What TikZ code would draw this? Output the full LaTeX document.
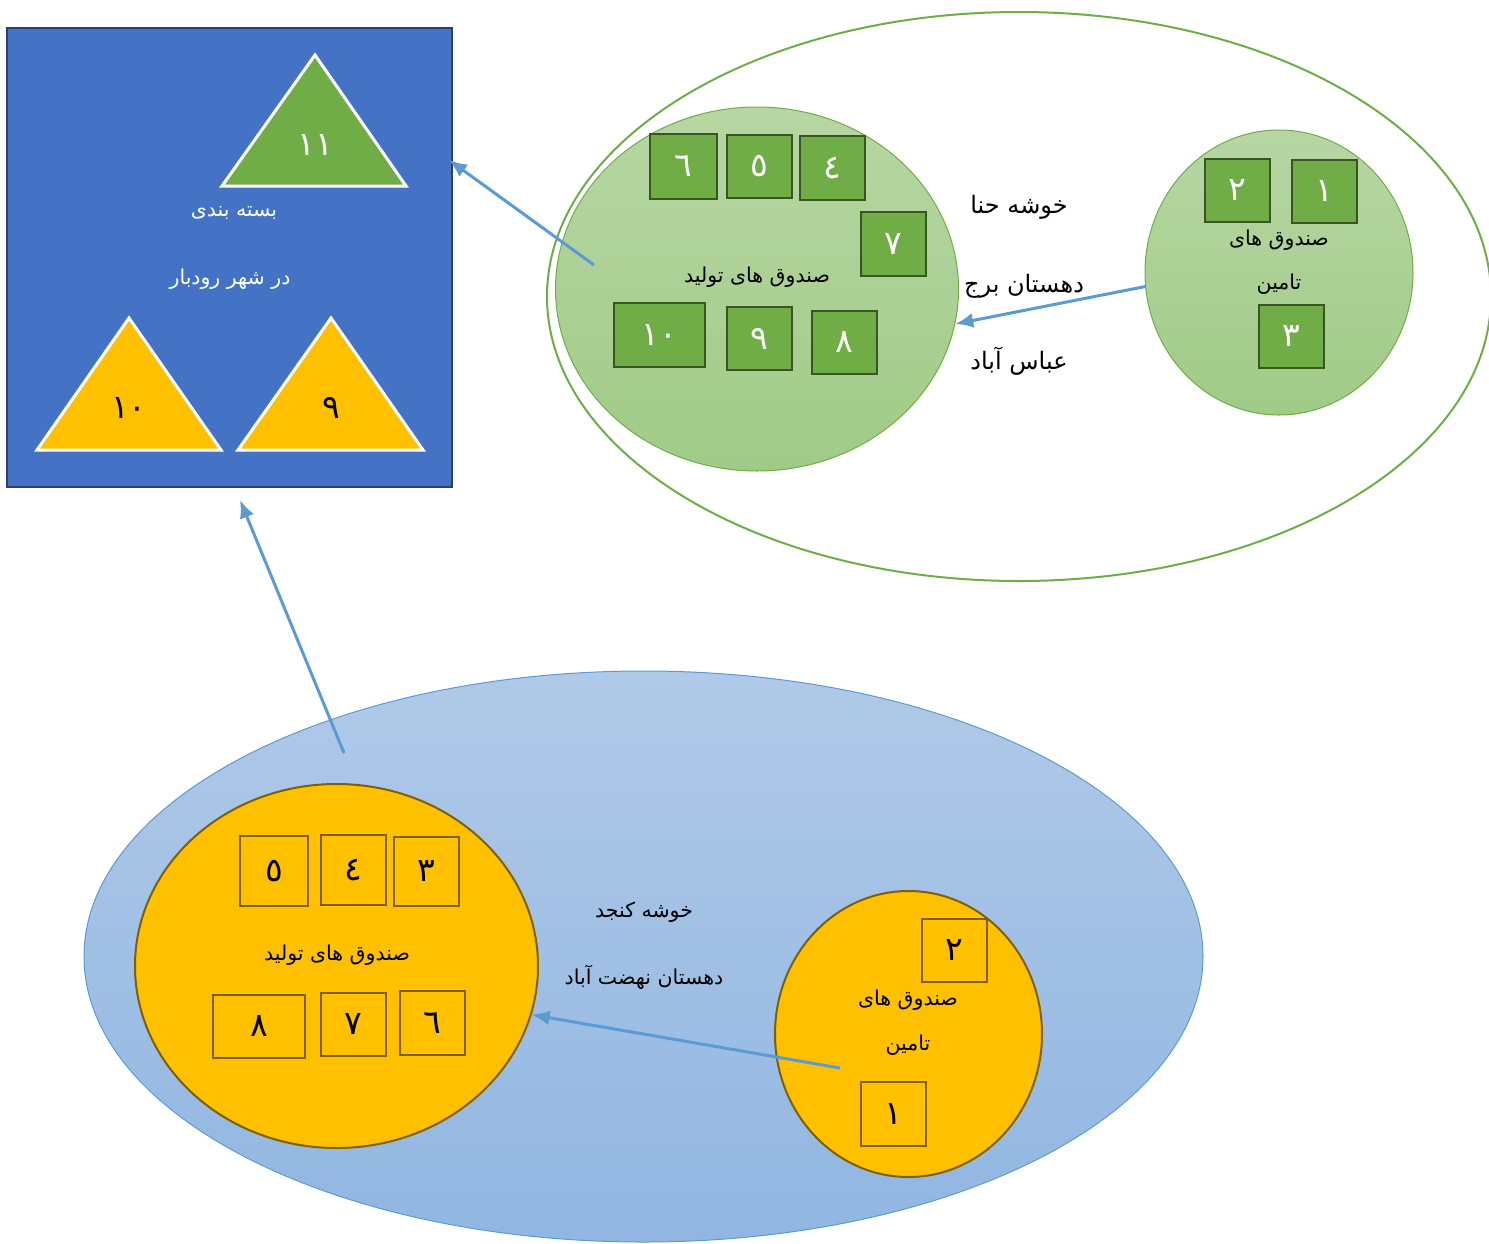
\documentclass[tikz,border=0pt]{standalone}
\usepackage{fontspec}
\usetikzlibrary{shapes.geometric,arrows.meta}
\TeXXeTstate=1
\newfontfamily\arabicfont[Script=Arabic]{DejaVu Sans}
\definecolor{packblue}{HTML}{4472C4}
\definecolor{packedge}{HTML}{2F3F6F}
\definecolor{mgreen}{HTML}{70AD47}
\definecolor{dgreen}{HTML}{375623}
\definecolor{myellow}{HTML}{FFC000}
\definecolor{dyellow}{HTML}{7F6000}
\definecolor{arrowblue}{HTML}{5B9BD5}
\definecolor{lgtop}{HTML}{B7D6A3}
\definecolor{lgbot}{HTML}{A0CB87}
\definecolor{lbtop}{HTML}{B0C9E8}
\definecolor{lbbot}{HTML}{91B6E1}
\begin{document}
\begin{tikzpicture}[x=1pt,y=-1pt,
  txt/.style={font=\arabicfont\fontsize{20.5}{24}\selectfont, inner sep=0pt},
  bigtxt/.style={font=\arabicfont\fontsize{24}{29}\selectfont, inner sep=0pt},
  numtxt/.style={font=\arabicfont\fontsize{33}{38}\selectfont},
  sqg/.style={rectangle, draw=dgreen, line width=2.5pt, fill=mgreen, inner sep=0pt,
    minimum width=65pt, minimum height=64pt, text=white, numtxt},
  sqy/.style={rectangle, draw=dyellow, line width=2.2pt, fill=myellow, inner sep=0pt,
    minimum width=65pt, minimum height=64pt, text=black, numtxt},
  ell/.style={ellipse, inner sep=0pt},
  conn/.style={draw=arrowblue, line width=3pt, -{Latex[length=18pt,width=15pt]}},
  tri/.style={draw=white, line width=3pt, line join=miter}
]
\useasboundingbox[fill=white] (0,0) rectangle (1489,1243);

% ---------- packaging square ----------
\node[rectangle, draw=packedge, line width=2pt, fill=packblue, minimum width=445pt,
  minimum height=459pt, inner sep=0pt] (pack) at (229.5,257.5) {};
\filldraw[tri, fill=mgreen] (315,55) -- (406,186) -- (222,186) -- cycle;
\node[numtxt, text=white] (t11) at (315,145) {١١};
\filldraw[tri, fill=myellow] (129,318) -- (221,450) -- (37,450) -- cycle;
\node[numtxt, text=black] (t10) at (129,408) {١٠};
\filldraw[tri, fill=myellow] (331,318) -- (423,450) -- (238,450) -- cycle;
\node[numtxt, text=black] (t9) at (331,408) {٩};
\node[txt, text=white] (packl1) at (234,213) {\beginR بسته بندی\endR};
\node[txt, text=white] (packl2) at (230,279) {\beginR در شهر رودبار\endR};

% ---------- henna cluster ----------
\node[ell, draw=mgreen, line width=2pt, fill=white, minimum width=944pt,
  minimum height=569pt] (henna) at (1019,296.5) {};
\node[ell, draw=mgreen, line width=1pt, top color=lgtop, bottom color=lgbot,
  minimum width=403pt, minimum height=364pt] (prodG) at (757,289) {};
\node[ell, draw=mgreen, line width=1pt, top color=lgtop, bottom color=lgbot,
  minimum width=268pt, minimum height=285pt] (supG) at (1279,272.5) {};

\node[sqg, minimum width=67pt, minimum height=65pt] (g6) at (683.5,166.5) {٦};
\node[sqg, minimum height=63pt] (g5) at (759.5,166.5) {٥};
\node[sqg] (g4) at (832.5,168) {٤};
\node[sqg] (g7) at (893.5,244) {٧};
\node[sqg, minimum width=91pt] (g10) at (659.5,335) {١٠};
\node[sqg, minimum height=63pt] (g9) at (759.5,338.5) {٩};
\node[sqg, minimum height=63pt] (g8) at (844.5,342.5) {٨};
\node[txt] (prodGl) at (757,277) {\beginR صندوق های تولید\endR};

\node[sqg, minimum height=63pt] (g2) at (1237.5,190.5) {٢};
\node[sqg, minimum height=63pt] (g1) at (1324.5,191.5) {١};
\node[sqg, minimum height=63pt] (g3) at (1291.5,336.5) {٣};
\node[txt] (supGl1) at (1279,240) {\beginR صندوق های\endR};
\node[txt] (supGl2) at (1279,284) {\beginR تامین\endR};

\node[bigtxt] (hl1) at (1019,207) {\beginR خوشه حنا\endR};
\node[bigtxt] (hl2) at (1024,286) {\beginR دهستان برج\endR};
\node[bigtxt] (hl3) at (1019,361) {\beginR عباس آباد\endR};

% ---------- sesame cluster ----------
\node[ell, draw=arrowblue, line width=1pt, top color=lbtop, bottom color=lbbot,
  minimum width=1119pt, minimum height=571pt] (sesame) at (643.5,956.5) {};
\node[ell, draw=dyellow, line width=2pt, fill=myellow,
  minimum width=403pt, minimum height=364pt] (prodY) at (336.5,966) {};
\node[ell, draw=dyellow, line width=2pt, fill=myellow,
  minimum width=267pt, minimum height=286pt] (supY) at (908.5,1034) {};

\node[sqy, minimum width=68pt, minimum height=70pt] (y5) at (274,871) {٥};
\node[sqy, minimum height=70pt] (y4) at (353.5,870) {٤};
\node[sqy, minimum height=69pt] (y3) at (426.5,871.5) {٣};
\node[sqy, minimum width=92pt, minimum height=63pt] (y8) at (259,1026.5) {٨};
\node[sqy, minimum height=63pt] (y7) at (353.5,1024.5) {٧};
\node[sqy] (y6) at (432.5,1023) {٦};
\node[txt] (prodYl) at (337,955) {\beginR صندوق های تولید\endR};

\node[sqy, minimum height=63pt] (y2) at (954.5,950.5) {٢};
\node[sqy] (y1) at (893.5,1114) {١};
\node[txt] (supYl1) at (908,1000) {\beginR صندوق های\endR};
\node[txt] (supYl2) at (908,1045) {\beginR تامین\endR};

\node[txt] (sl1) at (644,912) {\beginR خوشه کنجد\endR};
\node[txt] (sl2) at (644,977) {\beginR دهستان نهضت آباد\endR};

% ---------- connectors ----------
\coordinate (c1s) at (594,265);
\coordinate (c1e) at (449,160);
\coordinate (c2s) at (840,1068);
\coordinate (c3s) at (344,753);
\coordinate (c3e) at (240,500);
\draw[conn] (supG.186) -- (prodG.-10);
\draw[conn] (c1s) -- (c1e);
\draw[conn] (c2s) -- (prodY.-14);
\draw[conn] (c3s) -- (c3e);
\end{tikzpicture}
\end{document}
